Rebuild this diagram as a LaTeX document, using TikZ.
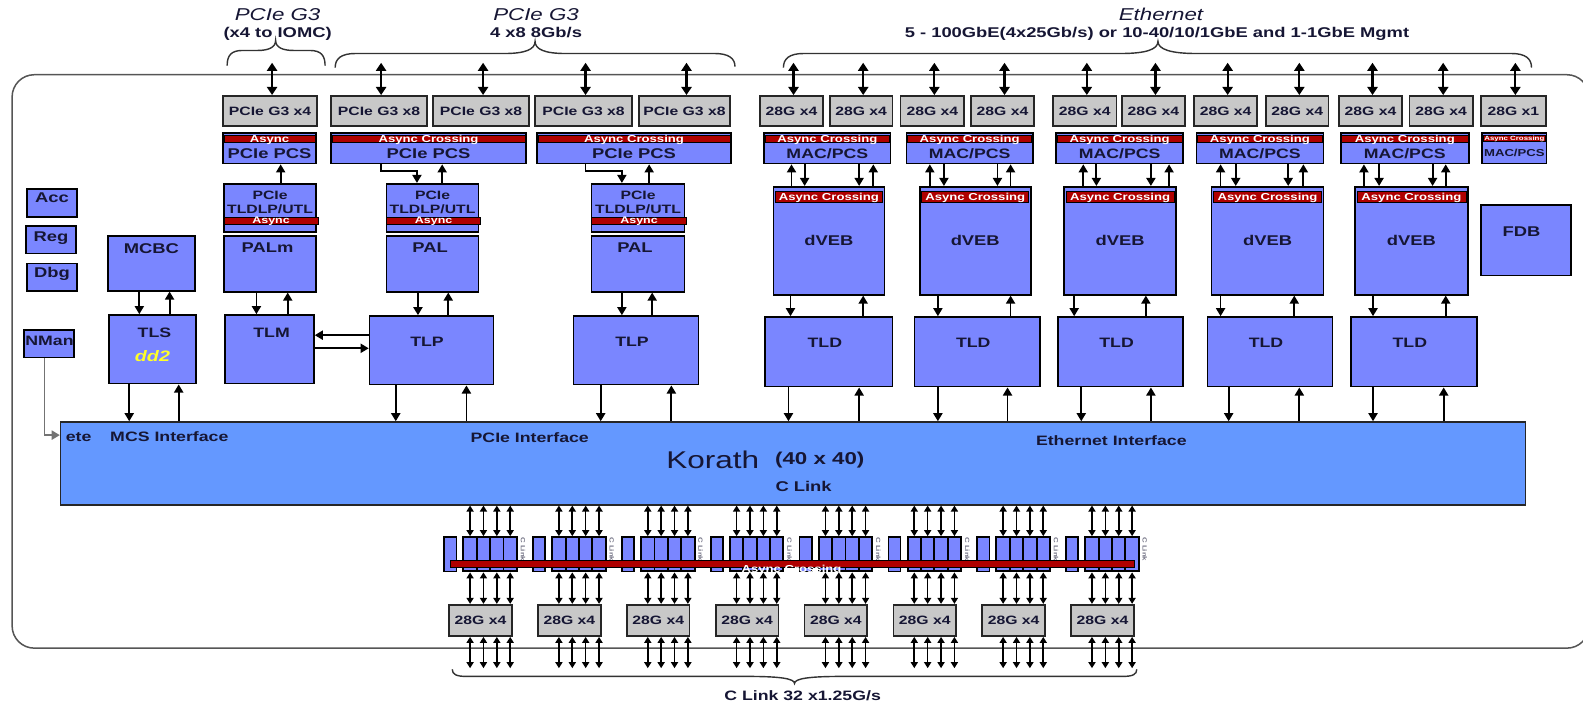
\documentclass[tikz,border=0pt]{standalone}
\usepackage{fontspec}
\setmainfont{Liberation Sans}[FakeStretch=1.3]
\usepackage{graphicx}
\usetikzlibrary{arrows.meta,calc}
\definecolor{bl}{RGB}{122,134,255}
\definecolor{kor}{RGB}{100,152,255}
\definecolor{gr}{RGB}{200,200,200}
\definecolor{rd}{RGB}{175,0,0}
\definecolor{tx}{RGB}{22,22,52}
\definecolor{frm}{RGB}{85,85,85}
\definecolor{ylw}{RGB}{255,255,40}
\newcommand\mybox[7]{\node[#6,minimum width={(#4)-(#2)},minimum height={(#5)-(#3)}] (#1) at ({((#2)+(#4))/2},{((#3)+(#5))/2}) {#7};}
\newcommand\adn[3]{\coordinate (tmpx) at (#3,0); \draw[ar] (#1.south -| tmpx) -- (#2.north -| tmpx);}
\newcommand\aup[3]{\coordinate (tmpx) at (#3,0); \draw[ar] (#2.north -| tmpx) -- (#1.south -| tmpx);}
\begin{document}
\begin{tikzpicture}[x=1pt,y=-1pt,
 blk/.style={draw=black,line width=1.6pt,fill=bl,inner sep=0pt},
 korb/.style={draw=black!85,line width=1.5pt,fill=kor,inner sep=0pt},
 gbox/.style={draw=black!85,line width=1.7pt,fill=gr,inner sep=0pt,text=tx,font=\bfseries\fontsize{12pt}{12pt}\selectfont},
 band/.style={draw=black,line width=0.7pt,fill=rd,inner sep=0pt},
 lb/.style={font=\bfseries\fontsize{#1pt}{#1pt}\selectfont,text=tx,inner sep=0pt,text depth=0pt},
 wt/.style={font=\bfseries\fontsize{#1pt}{#1pt}\selectfont,text=white,inner sep=0pt,text depth=0pt},
 ti/.style={font=\itshape\fontsize{17pt}{17pt}\selectfont,text=tx,inner sep=0pt,text depth=0pt},
 ar/.style={line width=1.8pt,-{Triangle[length=8pt,width=9pt]}},
 da/.style={line width=2.2pt,{Triangle[length=8pt,width=10pt]}-{Triangle[length=8pt,width=10pt]}},
 ds/.style={line width=1.6pt,{Triangle[length=6pt,width=7pt]}-{Triangle[length=6pt,width=7pt]}},
 cell/.style={draw=black,line width=1.9pt,fill=bl,inner sep=0pt},
 brc/.style={draw=black!80,line width=1.4pt},
]
\useasboundingbox (0,0) rectangle (1568,695);
% outer frame
\draw[draw=frm,line width=1.5pt,rounded corners=22pt] (12,74) rectangle (1574,642);

% titles
\node[ti] (h1) at (275,14) {PCIe G3};
\node[lb=14] (h1s) at (275,32) {(x4 to IOMC)};
\node[ti] (h2) at (531,14) {PCIe G3};
\node[lb=14] (h2s) at (531,32) {4 x8 8Gb/s};
\node[ti] (h3) at (1150,14) {Ethernet};
\node[lb=14] (h3s) at (1146,32) {5 - 100GbE(4x25Gb/s) or 10-40/10/1GbE and 1-1GbE Mgmt};

% braces
\draw[brc] (225,65) .. controls (225,55) and (229,50) .. (240,50) -- (255,50) .. controls (266,50) and (273,47) .. (273,40) .. controls (273,47) and (280,50) .. (291,50) -- (307,50) .. controls (318,50) and (322,55) .. (322,65);
\draw[brc] (332,67) .. controls (332,58) and (338,53) .. (352,53) -- (500,53) .. controls (520,53) and (530,49) .. (530,41) .. controls (530,49) and (540,53) .. (560,53) -- (708,53) .. controls (722,53) and (728,58) .. (728,66);
\draw[brc] (776,67) .. controls (776,58) and (782,53) .. (796,53) -- (1110,53) .. controls (1135,53) and (1147,49) .. (1147,41) .. controls (1147,49) and (1160,53) .. (1185,53) -- (1497,53) .. controls (1511,53) and (1517,58) .. (1517,67);
\draw[brc] (448,663) .. controls (448,668) and (452,670) .. (462,670) -- (740,670) .. controls (772,670) and (787,672) .. (787,677) .. controls (787,672) and (802,670) .. (834,670) -- (1112,670) .. controls (1122,670) and (1126,668) .. (1126,663);

% row 1
\foreach \n/\a/\b/\t in {g1/221/314/{PCIe G3 x4},g2/328/423/{PCIe G3 x8},g3/429/524/{PCIe G3 x8},g4/530/626/{PCIe G3 x8},g5/633/723/{PCIe G3 x8},e1/753/815/{28G x4},e2/822/884/{28G x4},e3/892/955/{28G x4},e4/962/1024/{28G x4},e5/1043/1106/{28G x4},e6/1111/1174/{28G x4},e7/1183/1245/{28G x4},e8/1254/1316/{28G x4},e9/1326/1389/{28G x4},e10/1396/1459/{28G x4},e11/1467/1531/{28G x1}}{
  \mybox{\n}{\a}{95}{\b}{125}{gbox}{\t}
  \draw[da] ([xshift=2pt]\n.north) -- ++(0,-32);
}

% row 2
\foreach \n/\a/\b/\t/\s/\z in {p1/221/313/{PCIe PCS}/{Async}/14,p2/328/521/{PCIe PCS}/{Async Crossing}/14,p3/532/724/{PCIe PCS}/{Async Crossing}/14,m1/757/882/{MAC/PCS}/{Async Crossing}/13.5,m2/898/1023/{MAC/PCS}/{Async Crossing}/13.5,m3/1046/1172/{MAC/PCS}/{Async Crossing}/13.5,m4/1185/1311/{MAC/PCS}/{Async Crossing}/13.5,m5/1328/1455/{MAC/PCS}/{Async Crossing}/13.5}{
  \mybox{\n}{\a}{132}{\b}{162}{blk}{}
  \mybox{\n-b}{\a+1}{134.5}{\b-1}{141.5}{band}{}
  \node[wt=10] (\n-s) at (\n-b) {\s};
  \node[lb=\z] (\n-t) at ({(\a+\b)/2},152.5) {\t};
}
\mybox{m6}{1468}{132}{1532}{162}{blk}{}
\mybox{m6-b}{1469}{134}{1531}{140}{band}{}
\node[wt=6] (m6-s) at (m6-b) {Async Crossing};
\node[lb=10] (m6-t) at (1500,151) {MAC/PCS};

% row 3 : PCIe TLDLP/UTL and PAL
\foreach \n/\a/\b/\q/\qt/\qx in {t1/222/313/pal1/PALm/265,t2/383/474/pal2/PAL/426,t3/586/678/pal3/PAL/629}{
  \mybox{\n}{\a}{182}{\b}{230}{blk}{}
  \node[lb=12] (\n-p) at ({(\a+\b)/2},193) {PCIe};
  \node[lb=12] (\n-u) at ({(\a+\b)/2},207.5) {TLDLP/UTL};
  \mybox{\n-b}{\a}{215}{\b+2}{222}{band}{}
  \node[wt=9.5] (\n-s) at (\n-b) {Async};
  \mybox{\q}{\a}{234}{\b}{289}{blk}{}
  \node[lb=14] (\q-t) at (\qx,245) {\qt};
}

% dVEB
\foreach \n/\a/\b in {dv1/766/876,dv2/911/1021,dv3/1054/1165,dv4/1200/1311,dv5/1342/1454}{
  \mybox{\n}{\a}{185}{\b}{292}{blk}{}
  \mybox{\n-b}{\a+2}{189.5}{\b-2}{200}{band}{}
  \node[wt=10] (\n-s) at (\n-b) {Async Crossing};
  \node[lb=14] (\n-t) at ({(\a+\b)/2},238) {dVEB};
}
\mybox{fdb}{1467}{203}{1556}{273}{blk}{}
\node[lb=14] (fdb-t) at (1507,229) {FDB};

% left small boxes
\mybox{acc}{27}{187}{76}{215}{blk}{}
\node[lb=14] (acc-t) at (51.5,196) {Acc};
\mybox{reg}{26}{224}{75}{251}{blk}{}
\node[lb=14] (reg-t) at (50.5,234) {Reg};
\mybox{dbg}{27}{261}{76}{288}{blk}{}
\node[lb=14] (dbg-t) at (51.5,270) {Dbg};
\mybox{nman}{24}{327}{73}{354}{blk}{}
\node[lb=13.5] (nman-t) at (49,338) {NMan};

% row 4
\mybox{mcbc}{107}{234}{193}{288}{blk}{}
\node[lb=14] (mcbc-t) at (150,246) {MCBC};
\mybox{tls}{108}{312}{194}{380}{blk}{}
\node[lb=13.5] (tls-t) at (153,330) {TLS};
\node[font=\bfseries\itshape\fontsize{15pt}{15pt}\selectfont,text=ylw,inner sep=0pt,text depth=0pt] (dd2) at (151,353) {dd2};
\mybox{tlm}{223}{312}{311}{380}{blk}{}
\node[lb=13.5] (tlm-t) at (269,330) {TLM};
\mybox{tlp2}{366}{313}{489}{381}{blk}{}
\node[lb=13.5] (tlp2-t) at (423,339) {TLP};
\mybox{tlp3}{568}{313}{692}{381}{blk}{}
\node[lb=13.5] (tlp3-t) at (626,339) {TLP};
\foreach \n/\a/\b in {tld1/758/884,tld2/906/1030,tld3/1048/1172,tld4/1196/1320,tld5/1338/1463}{
  \mybox{\n}{\a}{314}{\b}{383}{blk}{}
  \node[lb=13.5] (\n-t) at ({(\a+\b)/2-4},340) {TLD};
}

% Korath
\mybox{korath}{60}{418}{1511}{500}{korb}{}
\node[lb=13.5,anchor=west] (ete) at (65,433) {ete};
\node[lb=13.5,anchor=west] (mcs) at (109,432) {MCS Interface};
\node[lb=13.5,anchor=west] (pcii) at (466,433) {PCIe Interface};
\node[lb=13.5,anchor=west] (ethi) at (1026,436) {Ethernet Interface};
\node[font=\fontsize{24pt}{24pt}\selectfont,text=tx,inner sep=0pt,text depth=0pt] (kname) at (706,455) {Korath};
\node[lb=17] (kdim) at (812,454) {(40 x 40)};
\node[lb=14] (clink) at (796,482) {C Link};

% C link lanes
\foreach \k in {0,...,7}{
  \pgfmathsetmacro\cl{459+88*\k}
  \mybox{n\k}{\cl-19}{532}{\cl-7}{566}{blk}{}
  \foreach \j in {0,...,3}{
    \mybox{c\k\j}{\cl+13.25*\j}{532}{\cl+13.25*\j+13.25}{566}{cell}{}
  }
  \node[rotate=-90,font=\bfseries\fontsize{6pt}{6pt}\selectfont,text=tx!60,inner sep=0pt] (r\k) at (\cl+59,544) {C Link};
  \mybox{b\k}{\cl-14}{599}{\cl+48}{630}{gbox}{28G x4}
}
\mybox{cband}{446}{555.5}{1124}{562}{band}{}
\node[wt=10] (cband-t) at (784,563) {Async Crossing};
\foreach \k in {0,...,7}{\foreach \j in {0,...,3}{
  \draw[ds] (korath.south -| c\k\j.north) -- (c\k\j.north);
  \draw[ds] (c\k\j.south) -- (b\k.north -| c\k\j.south);
  \draw[ds] (b\k.south -| c\k\j.south) -- ++(0,31);
}}
\node[lb=13.5,anchor=base] (cap) at (795,693.5) {C Link 32 x1.25G/s};

% connectors row2 -> row3
\aup{p1}{t1}{278}
\aup{p2}{t2}{438}
\draw[ar] (p2.south -| 377,0) |- (413,169) -- (t2.north -| 413,0);
\aup{p3}{t3}{643}
\draw[ar] (p3.south -| 580,0) |- (616,169) -- (t3.north -| 616,0);
% MAC -> dVEB
\aup{m1}{dv1}{784} \adn{m1}{dv1}{797} \adn{m1}{dv1}{851} \aup{m1}{dv1}{865}
\aup{m2}{dv2}{921} \adn{m2}{dv2}{935} \adn{m2}{dv2}{988} \aup{m2}{dv2}{1001}
\aup{m3}{dv3}{1073} \adn{m3}{dv3}{1086} \adn{m3}{dv3}{1140} \aup{m3}{dv3}{1158}
\aup{m4}{dv4}{1209} \adn{m4}{dv4}{1224} \adn{m4}{dv4}{1276} \aup{m4}{dv4}{1291}
\aup{m5}{dv5}{1351} \adn{m5}{dv5}{1366} \adn{m5}{dv5}{1419} \aup{m5}{dv5}{1432}
% row3 -> row4
\adn{mcbc}{tls}{138} \aup{mcbc}{tls}{168}
\adn{pal1}{tlm}{254} \aup{pal1}{tlm}{285}
\adn{pal2}{tlp2}{414} \aup{pal2}{tlp2}{444}
\adn{pal3}{tlp3}{616} \aup{pal3}{tlp3}{646}
\adn{dv1}{tld1}{783} \aup{dv1}{tld1}{855}
\adn{dv2}{tld2}{929} \aup{dv2}{tld2}{1001}
\adn{dv3}{tld3}{1064} \aup{dv3}{tld3}{1135}
\adn{dv4}{tld4}{1209} \aup{dv4}{tld4}{1282}
\adn{dv5}{tld5}{1360} \aup{dv5}{tld5}{1432}
% row4 -> Korath
\adn{tls}{korath}{128} \aup{tls}{korath}{177}
\adn{tlp2}{korath}{392} \aup{tlp2}{korath}{462}
\adn{tlp3}{korath}{595} \aup{tlp3}{korath}{665}
\adn{tld1}{korath}{781} \aup{tld1}{korath}{851}
\adn{tld2}{korath}{929} \aup{tld2}{korath}{998}
\adn{tld3}{korath}{1071} \aup{tld3}{korath}{1140}
\adn{tld4}{korath}{1217} \aup{tld4}{korath}{1287}
\adn{tld5}{korath}{1360} \aup{tld5}{korath}{1430}
% TLM <-> TLP
\coordinate (ya) at (0,332);
\coordinate (yb) at (0,345);
\draw[ar] (tlp2.west |- ya) -- (tlm.east |- ya);
\draw[ar] (tlm.east |- yb) -- (tlp2.west |- yb);
% NMan -> Korath
\coordinate (yn) at (44,431);
\draw[ar,draw=black!55] (nman.south -| yn) -- (yn) -- (korath.west |- yn);
\end{tikzpicture}
\end{document}
